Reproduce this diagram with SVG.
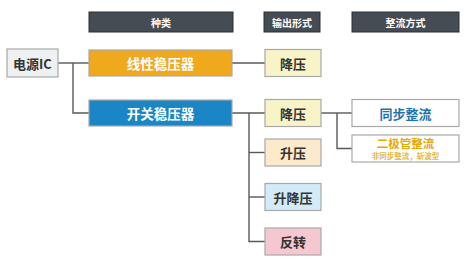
<svg xmlns="http://www.w3.org/2000/svg" width="476" height="263" viewBox="0 0 476 263">
<style>
text{font-family:"Noto Sans CJK SC","Noto Sans",sans-serif;font-weight:bold;text-anchor:middle;dominant-baseline:central}
.hdr rect{fill:#464c53;stroke:#2a2e33;stroke-width:1}
.hdr text{fill:#ffffff;font-size:10px}
.box{stroke:#a8a8a8;stroke-width:1.2}
.t{font-size:13px;fill:#333}
.w{font-size:13.5px;fill:#ffffff}
.conn path{fill:none;stroke:#555a5e;stroke-width:1.4}
</style>
<rect width="476" height="263" fill="#ffffff"/>
<g id="hdr1" class="hdr"><rect x="89" y="12" width="144" height="20"/><text x="161" y="22">种类</text></g>
<g id="hdr2" class="hdr"><rect x="264" y="12" width="56" height="20"/><text x="292" y="22">输出形式</text></g>
<g id="hdr3" class="hdr"><rect x="352" y="12" width="107" height="20"/><text x="405.5" y="22">整流方式</text></g>
<g class="conn" id="connectors">
<path d="M58 63H89"/>
<path d="M73 63V113H89"/>
<path d="M232 63H265"/>
<path d="M232 113H265"/>
<path d="M249 113V241.5H265"/>
<path d="M249 152.5H265"/>
<path d="M249 197H265"/>
<path d="M321 113H352"/>
<path d="M337 113V148.5H352"/>
</g>
<g id="power-ic"><rect class="box" x="7" y="49" width="51" height="28" fill="#eef0f2"/><text class="t" x="32.5" y="63">电源IC</text></g>
<g id="linear"><rect class="box" x="89" y="50" width="143" height="26" fill="#f0a81c" stroke="#e8d8b0"/><text class="w" x="160.5" y="63">线性稳压器</text></g>
<g id="switching"><rect class="box" x="89" y="100" width="143" height="26" fill="#1a86c6"/><text class="w" x="160.5" y="113">开关稳压器</text></g>
<g id="buck1"><rect class="box" x="265" y="49.5" width="56" height="27" fill="#f8f4c8"/><text class="t" x="293" y="63">降压</text></g>
<g id="buck2"><rect class="box" x="265" y="99.5" width="56" height="27" fill="#f8f4c8"/><text class="t" x="293" y="113">降压</text></g>
<g id="boost"><rect class="box" x="265" y="139" width="56" height="27" fill="#fde9cb"/><text class="t" x="293" y="152.5">升压</text></g>
<g id="buckboost"><rect class="box" x="265" y="183.5" width="56" height="27" fill="#d3eaf8"/><text class="t" x="293" y="197">升降压</text></g>
<g id="invert"><rect class="box" x="265" y="228" width="56" height="27" fill="#f6c7d1"/><text class="t" x="293" y="241.5">反转</text></g>
<g id="sync"><rect class="box" x="352" y="99.5" width="107" height="27" fill="#ffffff"/><text x="405.5" y="113" font-size="13px" fill="#1d73ad">同步整流</text></g>
<g id="diode"><rect class="box" x="352" y="135" width="107" height="27" fill="#ffffff"/><text x="405.5" y="142.5" font-size="11.5px" fill="#e8a600">二极管整流</text><text x="405.5" y="155.5" font-size="7.5px" font-weight="normal" fill="#e6b84a">非同步整流，斩波型</text></g>
</svg>
